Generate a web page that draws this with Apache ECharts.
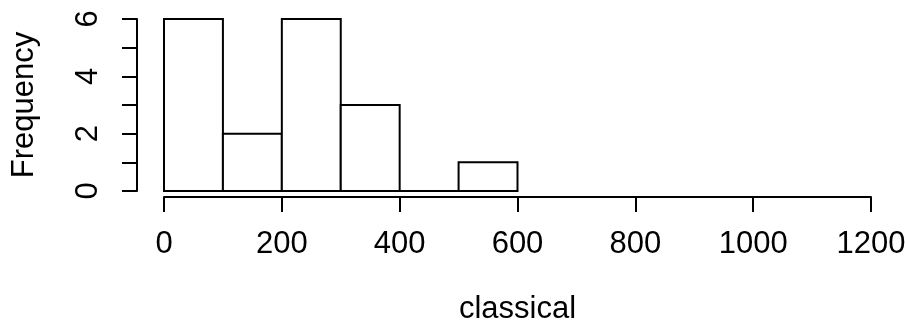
<!DOCTYPE html>
<html>
<head>
<meta charset="utf-8">
<script src="https://cdn.jsdelivr.net/npm/echarts@6/dist/echarts.min.js"></script>
<style>
  html, body { margin: 0; padding: 0; background: #fff; }
  #chart { width: 905px; height: 324px; }
</style>
</head>
<body>
<div id="chart"></div>
<script>
// histogram bins (classical) and counts
var binStart = [0, 100, 200, 300, 400, 500];
var binEnd = [100, 200, 300, 400, 500, 600];
var counts = [6, 2, 6, 3, 0, 1];
var xTicks = [0, 200, 400, 600, 800, 1000, 1200];
var yTicks = [0, 2, 4, 6];

var bins = binStart.map(function (s, i) { return [s, binEnd[i], counts[i]]; });

var font = '"Liberation Sans", Arial, sans-serif';
var myChart = echarts.init(document.getElementById('chart'));
myChart.setOption({
    animation: false,
    grid: { left: 164, right: 34, top: 19, bottom: 133, outerBoundsMode: 'none', containLabel: false },
    xAxis: {
        type: 'value',
        min: 0,
        max: 1200,
        interval: 200,
        offset: 6,
        name: 'classical',
        nameLocation: 'middle',
        nameGap: 97,
        nameTextStyle: { fontFamily: font, fontSize: 31, color: '#000' },
        splitLine: { show: false },
        axisLine: { show: true, onZero: false, lineStyle: { color: '#000', width: 2 } },
        axisTick: { show: true, length: 15, lineStyle: { color: '#000', width: 2 } },
        axisLabel: {
            margin: 32,
            fontFamily: font, fontSize: 31, color: '#000',
            formatter: function (v) { return xTicks.indexOf(v) >= 0 ? String(v) : ''; }
        }
    },
    yAxis: {
        type: 'value',
        min: 0,
        max: 6,
        interval: 1,
        offset: 27,
        name: 'Frequency',
        nameLocation: 'middle',
        nameGap: 97,
        nameTextStyle: { fontFamily: font, fontSize: 31, color: '#000' },
        splitLine: { show: false },
        axisLine: { show: true, onZero: false, lineStyle: { color: '#000', width: 2 } },
        axisTick: { show: true, length: 15, lineStyle: { color: '#000', width: 2 } },
        axisLabel: {
            rotate: 90,
            margin: 33,
            fontFamily: font, fontSize: 31, color: '#000',
            formatter: function (v) { return yTicks.indexOf(v) >= 0 ? String(v) : ''; }
        }
    },
    series: [{
        type: 'custom',
        data: bins,
        renderItem: function (params, api) {
            var p0 = api.coord([api.value(0), api.value(2)]);
            var p1 = api.coord([api.value(1), 0]);
            return {
                type: 'rect',
                shape: { x: p0[0], y: p0[1], width: p1[0] - p0[0], height: p1[1] - p0[1] },
                style: { fill: '#fff', stroke: '#000', lineWidth: 2 }
            };
        }
    }]
});
</script>
</body>
</html>
